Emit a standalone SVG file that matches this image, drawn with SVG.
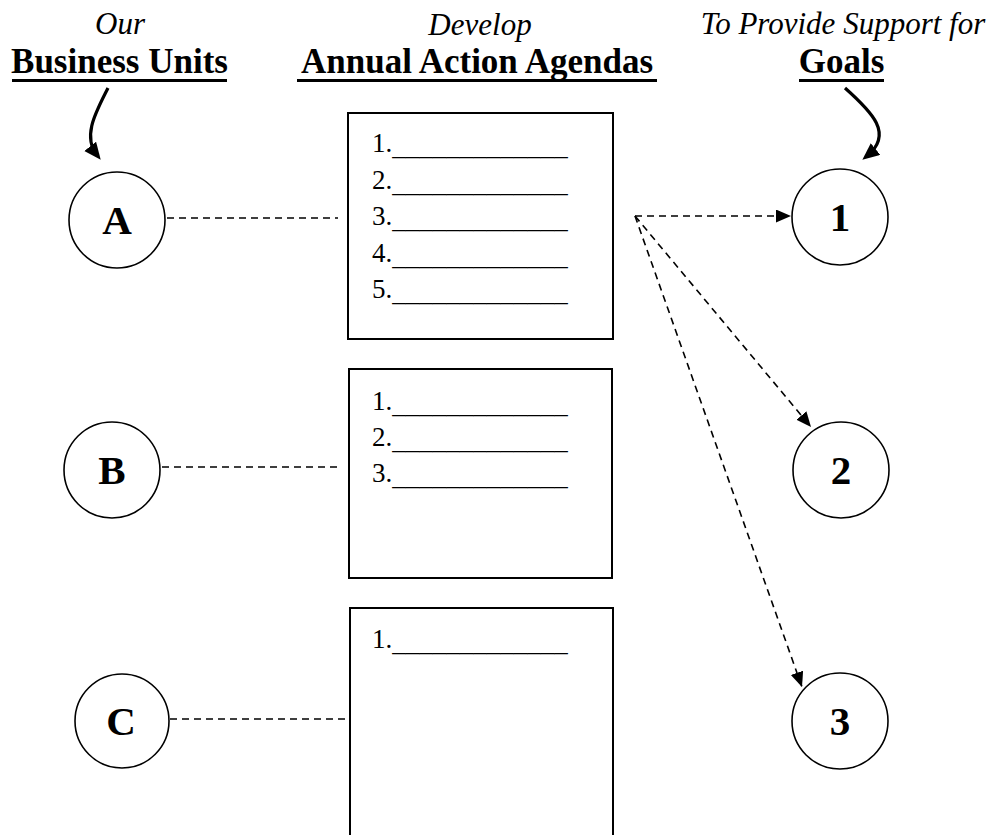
<svg xmlns="http://www.w3.org/2000/svg" width="1003" height="835" viewBox="0 0 1003 835">
  <style>
    .head-it { font-family: "Liberation Serif", "Times New Roman", serif; font-style: italic; font-size: 31px; fill: #000; }
    .head-bd { font-family: "Liberation Serif", "Times New Roman", serif; font-weight: bold; font-size: 35px; fill: #000; }
    .uline { stroke: #000; stroke-width: 3; }
    .node { fill: #fff; stroke: #000; stroke-width: 1.6; }
    .node-label { font-family: "Liberation Serif", "Times New Roman", serif; font-weight: bold; font-size: 41px; fill: #000; }
    .box { fill: #fff; stroke: #000; stroke-width: 2; }
    .item { font-family: "Liberation Serif", "Times New Roman", serif; font-size: 27px; fill: #000; }
    .dash { fill: none; stroke: #000; stroke-width: 1.6; stroke-dasharray: 7 5; }
    .curve { fill: none; stroke: #000; stroke-width: 3.2; }
  </style>
  <defs>
    <marker id="dashHead" markerUnits="userSpaceOnUse" markerWidth="16" markerHeight="14" refX="15" refY="6.5" orient="auto">
      <path d="M0,0 L15,6.5 L0,13 z" fill="#000"/>
    </marker>
    <marker id="curveHead" markerUnits="userSpaceOnUse" markerWidth="18" markerHeight="16" refX="11" refY="7.5" orient="auto">
      <path d="M0,0 L17,7.5 L0,15 z" fill="#000"/>
    </marker>
  </defs>

  <!-- column headings -->
  <g id="heading-units">
    <text class="head-it" x="120" y="34" text-anchor="middle">Our</text>
    <text class="head-bd" x="119.5" y="73" text-anchor="middle">Business Units</text>
    <line class="uline" x1="12" y1="80.5" x2="227" y2="80.5"/>
  </g>
  <g id="heading-agendas">
    <text class="head-it" x="480" y="35" text-anchor="middle">Develop</text>
    <text class="head-bd" x="477" y="73" text-anchor="middle">Annual Action Agendas</text>
    <line class="uline" x1="297" y1="80.5" x2="657" y2="80.5"/>
  </g>
  <g id="heading-goals">
    <text class="head-it" x="843" y="34" text-anchor="middle">To Provide Support for</text>
    <text class="head-bd" x="841.5" y="73" text-anchor="middle">Goals</text>
    <line class="uline" x1="799" y1="80.5" x2="884" y2="80.5"/>
  </g>

  <!-- connectors -->
  <g id="connectors">
    <path class="curve" d="M108,88 C 96,112 82,136 97,155" marker-end="url(#curveHead)"/>
    <path class="curve" d="M845,88 C 872,112 894,134 867,156" marker-end="url(#curveHead)"/>
    <line class="dash" x1="167" y1="218" x2="338" y2="218"/>
    <line class="dash" x1="162" y1="467" x2="338" y2="467"/>
    <line class="dash" x1="170" y1="719" x2="347" y2="719"/>
    <line class="dash" x1="635" y1="216" x2="791" y2="216" marker-end="url(#dashHead)"/>
    <line class="dash" x1="635" y1="216" x2="811" y2="427" marker-end="url(#dashHead)"/>
    <line class="dash" x1="635" y1="216" x2="802" y2="687" marker-end="url(#dashHead)"/>
  </g>

  <!-- business units -->
  <g id="unit-a">
    <circle class="node" cx="117" cy="220" r="48"/>
    <text class="node-label" x="117" y="234" text-anchor="middle">A</text>
  </g>
  <g id="unit-b">
    <circle class="node" cx="112" cy="470" r="48"/>
    <text class="node-label" x="112" y="484" text-anchor="middle">B</text>
  </g>
  <g id="unit-c">
    <circle class="node" cx="122" cy="721" r="47"/>
    <text class="node-label" x="121" y="735" text-anchor="middle">C</text>
  </g>

  <!-- action agendas -->
  <g id="agenda-a">
    <rect class="box" x="348" y="113" width="265" height="226"/>
    <text class="item" x="372" y="152">1.<tspan dy="3">_____________</tspan></text>
    <text class="item" x="372" y="189">2.<tspan dy="3">_____________</tspan></text>
    <text class="item" x="372" y="225">3.<tspan dy="3">_____________</tspan></text>
    <text class="item" x="372" y="262">4.<tspan dy="3">_____________</tspan></text>
    <text class="item" x="372" y="298">5.<tspan dy="3">_____________</tspan></text>
  </g>
  <g id="agenda-b">
    <rect class="box" x="349" y="369" width="263" height="209"/>
    <text class="item" x="372" y="410">1.<tspan dy="3">_____________</tspan></text>
    <text class="item" x="372" y="446">2.<tspan dy="3">_____________</tspan></text>
    <text class="item" x="372" y="482">3.<tspan dy="3">_____________</tspan></text>
  </g>
  <g id="agenda-c">
    <rect class="box" x="350" y="608" width="263" height="240"/>
    <text class="item" x="372" y="648">1.<tspan dy="3">_____________</tspan></text>
  </g>

  <!-- goals -->
  <g id="goal-1">
    <circle class="node" cx="840" cy="217" r="48"/>
    <text class="node-label" x="840" y="231" text-anchor="middle">1</text>
  </g>
  <g id="goal-2">
    <circle class="node" cx="841" cy="470" r="48"/>
    <text class="node-label" x="841" y="484" text-anchor="middle">2</text>
  </g>
  <g id="goal-3">
    <circle class="node" cx="840" cy="721" r="48"/>
    <text class="node-label" x="840" y="735" text-anchor="middle">3</text>
  </g>
</svg>
